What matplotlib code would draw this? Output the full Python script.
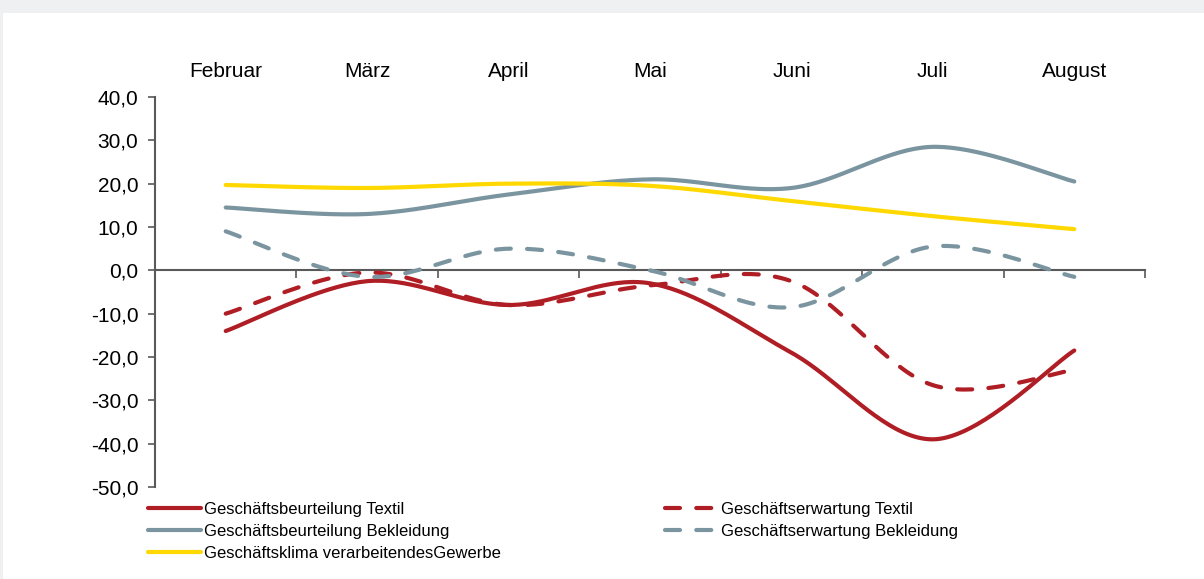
import matplotlib
matplotlib.use("Agg")
import matplotlib.pyplot as plt
import matplotlib.ticker as mticker
from matplotlib.patches import Rectangle
import numpy as np

# Monate und Saldenwerte (Prozentpunkte)
months = ["Februar", "März", "April", "Mai", "Juni", "Juli", "August"]
beurteilung_textil = [-14.0, -2.5, -8.0, -3.0, -19.0, -39.0, -18.5]
erwartung_textil = [-10.0, -0.5, -8.0, -3.5, -2.5, -26.5, -23.0]
beurteilung_bekleidung = [14.5, 13.0, 17.5, 21.0, 19.0, 28.5, 20.5]
erwartung_bekleidung = [9.0, -1.5, 5.0, 0.0, -8.5, 5.5, -1.5]
klima_gewerbe = [19.7, 19.0, 20.0, 19.5, 16.0, 12.5, 9.5]

RED = "#b01e25"
GRAY = "#7b95a0"
YELLOW = "#ffd800"
AXIS = "#595959"


def smooth(xs, ys, n=40):
    """Geglättete Linie wie in Excel (kubische Bezier, Catmull-Rom Tangenten)."""
    p = np.column_stack([xs, ys]).astype(float)
    p = np.vstack([p[0], p, p[-1]])
    out = []
    for i in range(1, len(p) - 2):
        p0, p1, p2, p3 = p[i - 1], p[i], p[i + 1], p[i + 2]
        c1 = p1 + (p2 - p0) / 6
        c2 = p2 - (p3 - p1) / 6
        t = np.linspace(0, 1, n)[:, None]
        seg = ((1 - t) ** 3) * p1 + 3 * ((1 - t) ** 2) * t * c1 + 3 * (1 - t) * t ** 2 * c2 + t ** 3 * p2
        out.append(seg if i == 1 else seg[1:])
    out = np.vstack(out)
    return out[:, 0], out[:, 1]


plt.rcParams["font.family"] = ["Liberation Sans", "DejaVu Sans"]

fig = plt.figure(figsize=(12.04, 5.79), dpi=100, facecolor="#eff0f2")
# weisse Fläche unter dem grauen Rand oben/links
fig.patches.append(Rectangle((3 / 1204, 0), 1, 1 - 13 / 579, transform=fig.transFigure,
                             facecolor="white", edgecolor="none", zorder=-10))

ax = fig.add_axes([155 / 1204, 1 - 487 / 579, 990 / 1204, 390 / 579])
ax.set_facecolor("none")
ax.set_zorder(1)

x = np.arange(len(months))
series = [
    (beurteilung_textil, RED, "-", "Geschäftsbeurteilung Textil"),
    (beurteilung_bekleidung, GRAY, "-", "Geschäftsbeurteilung Bekleidung"),
    (klima_gewerbe, YELLOW, "-", "Geschäftsklima verarbeitendesGewerbe"),
    (erwartung_textil, RED, "--", "Geschäftserwartung Textil"),
    (erwartung_bekleidung, GRAY, "--", "Geschäftserwartung Bekleidung"),
]
zorders = {"Geschäftsbeurteilung Textil": 3, "Geschäftserwartung Textil": 4,
           "Geschäftsbeurteilung Bekleidung": 5, "Geschäftserwartung Bekleidung": 6,
           "Geschäftsklima verarbeitendesGewerbe": 7}

for vals, color, ls, label in series:
    sx, sy = smooth(x, vals)
    kw = dict(color=color, lw=3.0, label=label, zorder=zorders[label],
              solid_capstyle="round", dash_capstyle="round")
    if ls == "--":
        ax.plot(sx, sy, dashes=(3.6, 3.9), **kw)
    else:
        ax.plot(sx, sy, **kw)

ax.set_xlim(-0.5, len(months) - 0.5)
ax.set_ylim(-50, 40)
ax.yaxis.set_major_locator(mticker.MultipleLocator(10))
ax.yaxis.set_major_formatter(mticker.FuncFormatter(lambda v, _: f"{v:.1f}".replace(".", ",")))

# Monatsnamen oben, Kategorie-Trennstriche an der Nulllinie
ax.spines["bottom"].set_position(("data", 0))
ax.spines["top"].set_visible(False)
ax.spines["right"].set_visible(False)
for s in ("left", "bottom"):
    ax.spines[s].set_color(AXIS)
    ax.spines[s].set_linewidth(1.5)

ax.set_xticks(x)
ax.set_xticklabels(months)
ax.set_xticks(np.arange(-0.5, len(months)), minor=True)
ax.tick_params(axis="x", which="major", length=0, labeltop=True, labelbottom=False,
               pad=11.5, labelsize=15, labelcolor="black")
ax.tick_params(axis="x", which="minor", length=5.5, width=1.2, color=AXIS, direction="out")
ax.tick_params(axis="y", length=5, width=1.2, color=AXIS, pad=7, labelsize=15)

leg = ax.legend(loc="upper left", bbox_to_anchor=(148 / 1204, 1 - 502 / 579),
                bbox_transform=fig.transFigure, ncol=2, frameon=False,
                fontsize=12, handlelength=3.2, handletextpad=0.15,
                columnspacing=9.85, labelspacing=0.42, borderpad=0, borderaxespad=0)

fig.savefig("out.png", dpi=100, facecolor=fig.get_facecolor())
